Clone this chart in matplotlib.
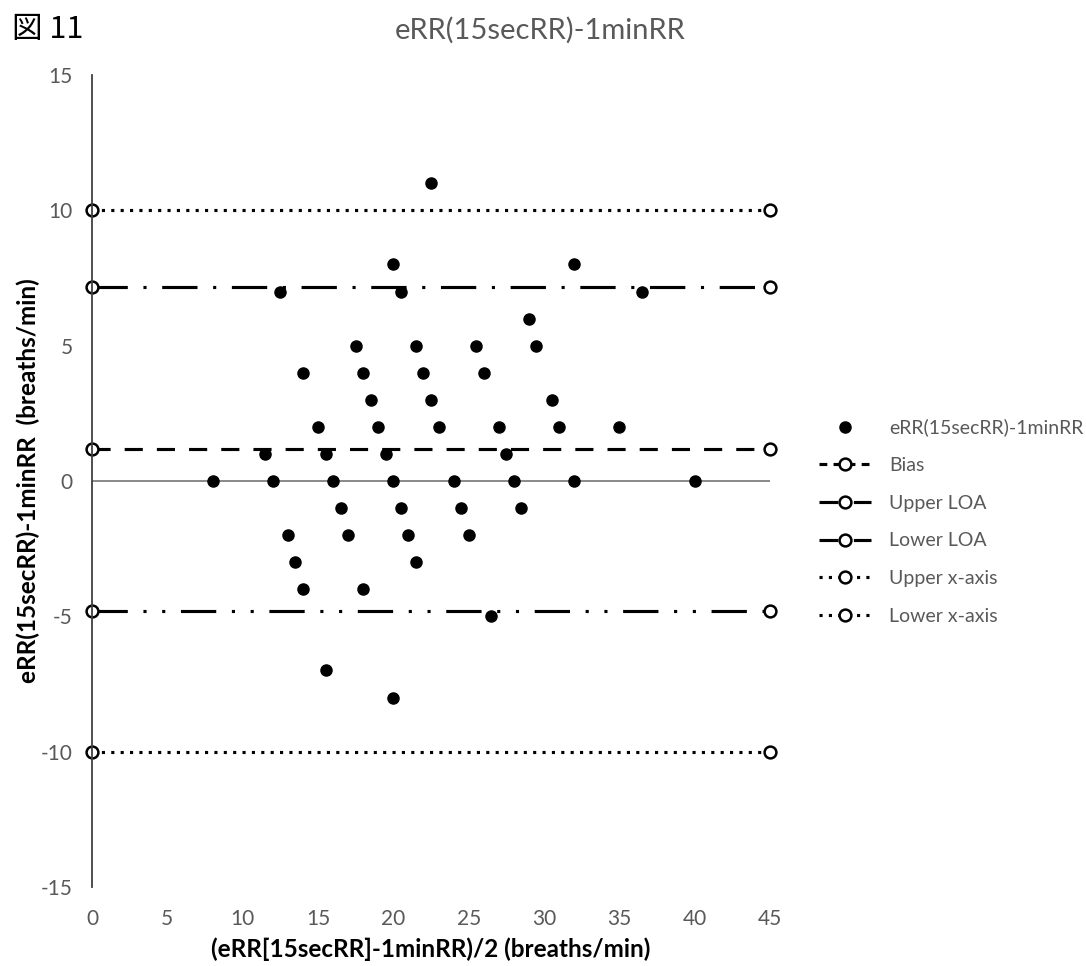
import matplotlib
matplotlib.use('Agg')
import matplotlib.pyplot as plt
from matplotlib.lines import Line2D

plt.rcParams['font.family'] = ['Lato', 'DejaVu Sans']
plt.rcParams['axes.unicode_minus'] = False

# mean of the two methods vs difference (breaths/min)
mean_x = [22.5, 20.0, 12.5, 20.5, 32.0, 36.5, 29.0,
          17.5, 21.5, 25.5, 29.5, 14.0, 18.0, 22.0, 26.0,
          18.5, 22.5, 30.5, 15.0, 19.0, 23.0, 27.0, 31.0, 35.0,
          11.5, 15.5, 19.5, 27.5,
          8.0, 12.0, 16.0, 20.0, 24.0, 28.0, 32.0, 40.0,
          16.5, 20.5, 24.5, 28.5, 13.0, 17.0, 21.0, 25.0,
          13.5, 21.5, 14.0, 18.0, 26.5, 15.5, 20.0]
diff = [11, 8, 7, 7, 8, 7, 6,
        5, 5, 5, 5, 4, 4, 4, 4,
        3, 3, 3, 2, 2, 2, 2, 2, 2,
        1, 1, 1, 1,
        0, 0, 0, 0, 0, 0, 0, 0,
        -1, -1, -1, -1, -2, -2, -2, -2,
        -3, -3, -4, -4, -5, -7, -8]

bias = 1.17
upper_loa = 7.15
lower_loa = -4.81
upper_xaxis = 10
lower_xaxis = -10
line_x = [0, 45]

grey = '#595959'

fig = plt.figure(figsize=(10.86, 9.66), dpi=100)
ax = fig.add_axes([0.0847, 0.0818, 0.6243, 0.8406])

lw = 2.25
circ = dict(marker='o', ms=8.5, mfc='white', mec='black', mew=1.8, clip_on=False)
ax.plot(line_x, [bias, bias], color='black', lw=lw, dashes=(5.8, 4.5), **circ)
ax.plot(line_x, [upper_loa, upper_loa], color='black', lw=lw,
        dashes=(11.3, 5.0, 1.0, 5.0), **circ)
ax.plot(line_x, [lower_loa, lower_loa], color='black', lw=lw,
        dashes=(11.3, 5.0, 1.0, 5.0, 1.0, 5.0), **circ)
ax.plot(line_x, [upper_xaxis, upper_xaxis], color='black', lw=lw, dashes=(1, 2), **circ)
ax.plot(line_x, [lower_xaxis, lower_xaxis], color='black', lw=lw, dashes=(1, 2), **circ)

ax.axhline(0, xmin=0, xmax=1, color='#808080', lw=1.3, zorder=1)
ax.scatter(mean_x, diff, s=64, color='black', zorder=5, clip_on=False)

ax.set_xlim(0, 45)
ax.set_ylim(-15, 15)
ax.set_xticks(range(0, 46, 5))
ax.set_yticks(range(-15, 16, 5))
ax.tick_params(axis='x', length=0, pad=16, labelsize=15, labelcolor=grey)
ax.tick_params(axis='y', length=0, pad=14, labelsize=15, labelcolor=grey)
for s in ['top', 'right', 'bottom']:
    ax.spines[s].set_visible(False)
ax.spines['left'].set_color('#404040')
ax.spines['left'].set_linewidth(1.3)

ax.set_xlabel('(eRR[15secRR]-1minRR)/2 (breaths/min)', fontsize=17.5,
              fontweight='bold', labelpad=6)
ax.set_ylabel('eRR(15secRR)-1minRR  (breaths/min)', fontsize=17.5, fontweight='bold')
ax.yaxis.set_label_coords(-0.076, 0.5)

fig.text(0.497, 0.969, 'eRR(15secRR)-1minRR', ha='center', va='center',
         fontsize=21, color=grey)
fig.text(0.011, 0.969, '図 11', ha='left', va='center', fontsize=22,
         color='black', family=['Noto Sans CJK JP', 'DejaVu Sans'])

leg_circ = dict(marker='o', ms=8.5, mfc='white', mec='black', mew=1.8)
handles = [
    Line2D([], [], ls='none', marker='o', ms=8, color='black'),
    Line2D([], [], color='black', lw=lw, dashes=(2.5, 2.0), **leg_circ),
    Line2D([], [], color='black', lw=lw, dashes=(6, 2, 1, 2), **leg_circ),
    Line2D([], [], color='black', lw=lw, dashes=(6, 2, 1, 2), **leg_circ),
    Line2D([], [], color='black', lw=lw, dashes=(1, 2), **leg_circ),
    Line2D([], [], color='black', lw=lw, dashes=(1, 2), **leg_circ),
]
labels = ['eRR(15secRR)-1minRR', 'Bias', 'Upper LOA', 'Lower LOA',
          'Upper x-axis', 'Lower x-axis']
leg = fig.legend(handles, labels, loc='center left', bbox_to_anchor=(0.745, 0.46),
                 frameon=False, fontsize=14, handlelength=2.7, handletextpad=0.9,
                 labelspacing=1.06, borderpad=0)
for t in leg.get_texts():
    t.set_color(grey)

fig.savefig('out.png', dpi=100)
